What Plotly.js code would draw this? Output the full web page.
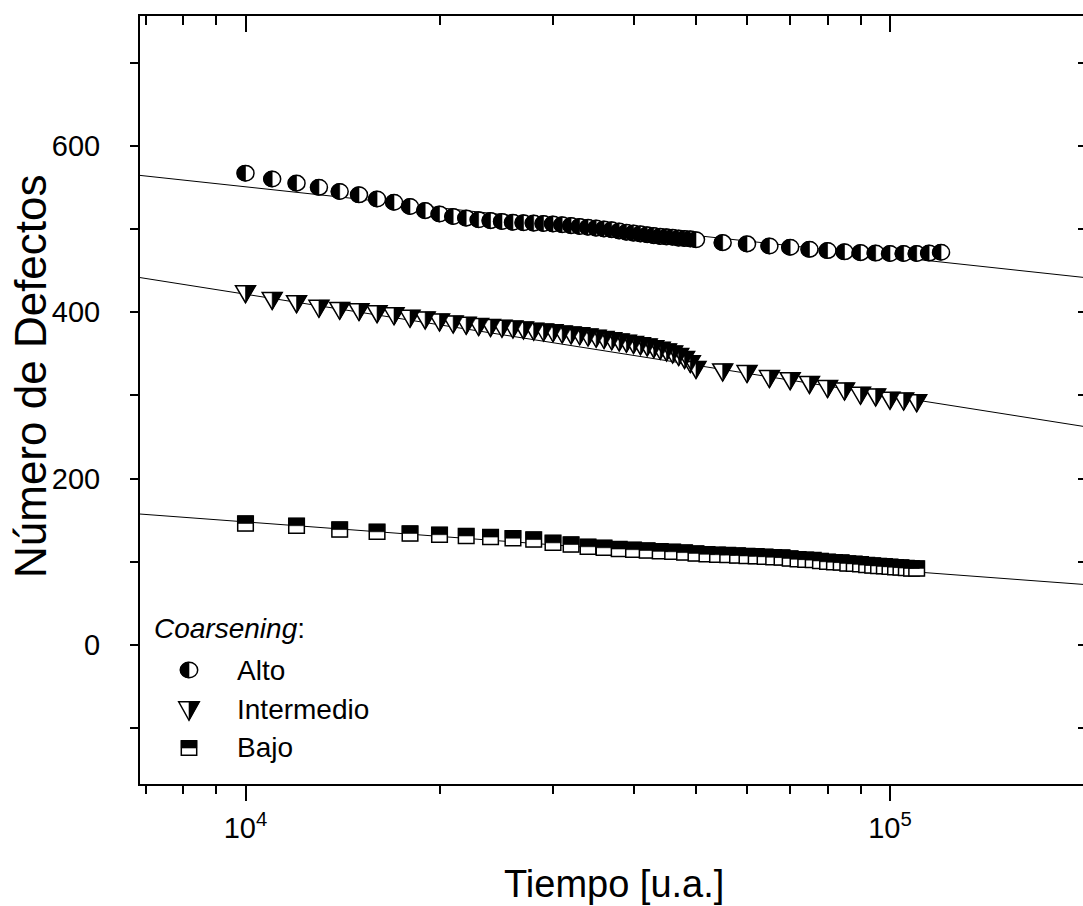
<!DOCTYPE html>
<html><head><meta charset="utf-8">
<script src="https://cdn.plot.ly/plotly-3.0.1.min.js"></script>
<style>html,body{margin:0;padding:0;overflow:hidden;background:#fff}</style>
</head><body><div id="chart" style="width:1090px;height:906px"></div>
<script>
// ---- data ----
const altoX = [10000,11000,12000,13000,14000,15000,16000,17000,18000,19000,20000,21000,22000,23000,24000,25000,26000,27000,28000,29000,30000,31000,32000,33000,34000,35000,36000,37000,38000,39000,40000,41000,42000,43000,44000,45000,46000,47000,48000,49000,50000,55000,60000,65000,70000,75000,80000,85000,90000,95000,100000,105000,110000,115000,120000];
const altoY = [567,560,555,550,545,541,536,532,527,522,518,515,513,511,510,509,508,507.5,507,506.5,506,505,504,503,502,501,500,499,497.5,496,495,494,493,492,491,490.5,490,489,488.5,488,487,483.5,482,479.5,478,475.5,474,472.5,471.5,471,470.5,470.5,470.5,471,472];
const interX = [10000,11000,12000,13000,14000,15000,16000,17000,18000,19000,20000,21000,22000,23000,24000,25000,26000,27000,28000,29000,30000,31000,32000,33000,34000,35000,36000,37000,38000,39000,40000,41000,42000,43000,44000,45000,46000,47000,48000,49000,50000,55000,60000,65000,70000,75000,80000,85000,90000,95000,100000,105000,110000];
const interY = [421.5,413.5,409.5,404,401.5,400,397.5,395,392,390,387.5,385,383.5,382,381,380,379,378,376.5,375.5,374.5,373,372,371,369.5,368,366.5,365,363.5,362,360.5,359,357.5,355.5,353.5,351.5,349,346,342.5,337.5,330.5,327.5,325.5,319.5,317,312.5,307.5,304.5,299.5,297.5,293.5,292.5,290.5];
const bajoX = [10000,12000,14000,16000,18000,20000,22000,24000,26000,28000,30000,32000,34000,36000,38000,40000,42000,44000,46000,48000,50000,52000,54000,56000,58000,60000,62000,64000,66000,68000,70000,72000,74000,76000,78000,80000,82000,84000,86000,88000,90000,92000,94000,96000,98000,100000,102000,104000,106000,108000,110000];
const bajoY = [146,143.3,138.7,136,134,132.5,131,129.7,128.3,126.7,122.7,120.7,118,116.8,115.3,114.5,113.5,112.5,112,111,110,109,108.5,108,107.5,107,106.5,106,105.5,105,104,103,102.5,102,101,100,99.5,99,98,97.5,97,96,95.5,95,94.5,94,93.5,93,92.5,92,92];
// fitted straight lines (end points)
const fitX = [6500, 220000];
const fitAlto = [566.3, 438.2];
const fitInter = [444.4, 257.5];
const fitBajo = [158.7, 70.3];
// labels
const seriesNames = ['Alto','Intermedio','Bajo'];
const xTickVals = [10000, 100000];
const xTickText = ['10<sup>4</sup>','10<sup>5</sup>'];
const xMinorVals = [7000,8000,9000,20000,30000,40000,50000,60000,70000,80000,90000,200000];
const yTickVals = [0,200,400,600];
const yMinorVals = [-100,100,300,500,700];
const legendTitle = '<i>Coarsening</i>:';
const xTitle = 'Tiempo [u.a.]';
const yTitle = 'Número de Defectos';

// ---- layout geometry & styles ----
const W = 1090, H = 906;
const M = {l:140, r:4, t:16, b:122};
const xRange = [3.8363, 5.3041];
const yRange = [-167.1, 755.9];
const FONT = 'Liberation Sans, Arial, sans-serif';
const pw = W - M.l - M.r, ph = H - M.t - M.b;
const px2x = p => (p - M.l) / pw;
const px2y = p => (H - M.b - p) / ph;

// half-filled symbol outlines in pixels (y up), drawn as pixel-sized shapes anchored at each data point
const K = 0.5523;
const f2 = v => +v.toFixed(2);
function ellipsePaths(rx, ry) {
  const kx = f2(K * rx), ky = f2(K * ry);
  return {
    full: `M0,${ry} C${kx},${ry} ${rx},${ky} ${rx},0 C${rx},${-ky} ${kx},${-ry} 0,${-ry} C${-kx},${-ry} ${-rx},${-ky} ${-rx},0 C${-rx},${ky} ${-kx},${ry} 0,${ry} Z`,
    half: `M0,${ry} C${-kx},${ry} ${-rx},${ky} ${-rx},0 C${-rx},${-ky} ${-kx},${-ry} 0,${-ry} Z`
  };
}
function trianglePaths(a, h) {
  const t = h / 2;
  return {full: `M${-a},${t} L${a},${t} L0,${-t} Z`, half: `M0,${t} L${a},${t} L0,${-t} Z`};
}
function rectPaths(sx, sy) {
  return {full: `M${-sx},${-sy} H${sx} V${sy} H${-sx} Z`, half: `M${-sx},0 H${sx} V${sy} H${-sx} Z`};
}
const symData = [ellipsePaths(8.5, 7.8), trianglePaths(10, 17), rectPaths(7.8, 7.5)];
const symLegend = [ellipsePaths(8.7, 7.8), trianglePaths(10.3, 18.5), rectPaths(7.7, 7.2)];
// plain markers underneath (smaller footprint, covered by the shapes)
const baseMarkers = [
  {symbol: 'circle', size: 15},
  {symbol: 'arrow-down', size: 16, standoff: 8},
  {symbol: 'square', size: 14}
];

function fullShape(xa, ya, xv, yv, paths) {
  return {type: 'path', xref: xa, yref: ya, xsizemode: 'pixel', ysizemode: 'pixel', xanchor: xv, yanchor: yv, layer: 'above',
          path: paths.full, fillcolor: 'white', line: {color: 'black', width: 1.5}};
}
function halfShape(xa, ya, xv, yv, paths) {
  return {type: 'path', xref: xa, yref: ya, xsizemode: 'pixel', ysizemode: 'pixel', xanchor: xv, yanchor: yv, layer: 'above',
          path: paths.half, fillcolor: 'black', line: {color: 'black', width: 0.6}};
}

const lineTrace = (y) => ({x: fitX, y: y, mode: 'lines', line: {color: 'black', width: 1}, showlegend: false, hoverinfo: 'skip'});
const series = [[altoX, altoY], [interX, interY], [bajoX, bajoY]];

const data = [lineTrace(fitAlto), lineTrace(fitInter), lineTrace(fitBajo)];
const shapes = [];
series.forEach((s, k) => {
  data.push({x: s[0], y: s[1], name: seriesNames[k], mode: 'markers', showlegend: false,
    marker: Object.assign({color: 'white', line: {color: 'black', width: 1.5}}, baseMarkers[k])});
  s[0].forEach((xv, i) => shapes.push(fullShape('x', 'y', xv, s[1][i], symData[k])));
  s[0].forEach((xv, i) => shapes.push(halfShape('x', 'y', xv, s[1][i], symData[k])));
});
// overlay axes carrying the inward mirrored ticks on top / right
data.push({x: [10000], y: [0], xaxis: 'x2', yaxis: 'y2', mode: 'markers', marker: {opacity: 0}, showlegend: false, hoverinfo: 'skip'});

// legend
const legSymX = 189, legTextX = 235, legSymY = [670, 711, 748], legTextY = [670, 709, 747];
seriesNames.forEach((n, i) => {
  shapes.push(fullShape('paper', 'paper', px2x(legSymX), px2y(legSymY[i]), symLegend[i]));
  shapes.push(halfShape('paper', 'paper', px2x(legSymX), px2y(legSymY[i]), symLegend[i]));
});
const annotations = [
  {xref: 'paper', yref: 'paper', x: px2x(152), y: px2y(628), xanchor: 'left', yanchor: 'middle', showarrow: false,
   text: legendTitle, font: {family: FONT, size: 28, color: 'black'}},
  {xref: 'paper', yref: 'paper', x: px2x(613.5), y: px2y(884), xanchor: 'center', yanchor: 'middle', showarrow: false,
   text: xTitle, font: {family: FONT, size: 38, color: 'black'}},
  {xref: 'paper', yref: 'paper', x: px2x(30), y: px2y(376), xanchor: 'center', yanchor: 'middle', showarrow: false, textangle: -90,
   text: yTitle, font: {family: FONT, size: 44, color: 'black'}}
];
seriesNames.forEach((n, i) => {
  annotations.push({xref: 'paper', yref: 'paper', x: px2x(legTextX), y: px2y(legTextY[i]), xanchor: 'left', yanchor: 'middle', showarrow: false,
    text: n, font: {family: FONT, size: 28, color: 'black'}});
});

const layout = {
  width: W, height: H, margin: M, paper_bgcolor: 'white', plot_bgcolor: 'white', showlegend: false,
  font: {family: FONT, color: 'black'},
  xaxis: {type: 'log', range: xRange, showline: true, linewidth: 2, linecolor: 'black', mirror: true,
    ticks: 'outside', ticklen: 15, tickwidth: 2, tickcolor: 'black', tickmode: 'array', tickvals: xTickVals, ticktext: xTickText,
    tickfont: {family: FONT, size: 29}, ticklabelstandoff: 2,
    minor: {tickmode: 'array', tickvals: xMinorVals, ticks: 'outside', ticklen: 8, tickwidth: 2, tickcolor: 'black'},
    showgrid: false, zeroline: false},
  xaxis2: {type: 'log', range: xRange, overlaying: 'x', side: 'top', anchor: 'y', showline: false,
    ticks: 'inside', ticklen: 16, tickwidth: 2, tickcolor: 'black', tickmode: 'array', tickvals: xTickVals, showticklabels: false,
    minor: {tickmode: 'array', tickvals: xMinorVals, ticks: 'inside', ticklen: 9, tickwidth: 2, tickcolor: 'black'},
    showgrid: false, zeroline: false},
  yaxis: {range: yRange, showline: true, linewidth: 2, linecolor: 'black', mirror: true,
    ticks: 'outside', ticklen: 8, tickwidth: 2, tickcolor: 'black', tickmode: 'array', tickvals: yTickVals,
    tickfont: {family: FONT, size: 29}, ticklabelstandoff: 24,
    minor: {tickmode: 'array', tickvals: yMinorVals, ticks: 'outside', ticklen: 8, tickwidth: 2, tickcolor: 'black'},
    showgrid: false, zeroline: false},
  yaxis2: {range: yRange, overlaying: 'y', side: 'right', anchor: 'x', showline: false,
    ticks: 'inside', ticklen: 8, tickwidth: 2, tickcolor: 'black', tickmode: 'array', tickvals: yTickVals, showticklabels: false,
    minor: {tickmode: 'array', tickvals: yMinorVals, ticks: 'inside', ticklen: 8, tickwidth: 2, tickcolor: 'black'},
    showgrid: false, zeroline: false},
  shapes: shapes,
  annotations: annotations
};
Plotly.newPlot('chart', data, layout, {staticPlot: true, displayModeBar: false});
</script></body></html>
